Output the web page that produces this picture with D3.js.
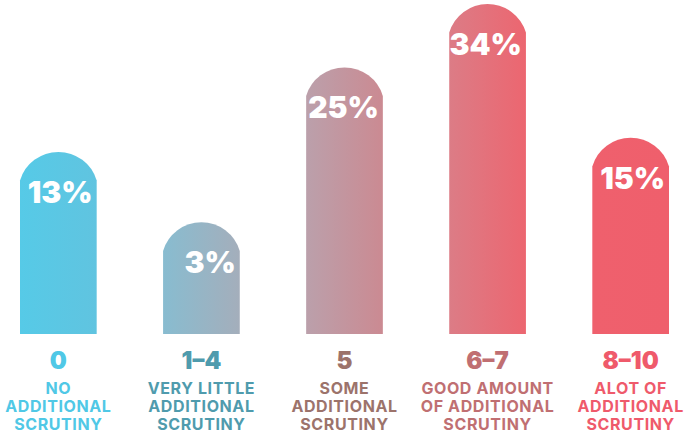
<!DOCTYPE html>
<html>
<head>
<meta charset="utf-8">
<script src="https://cdn.jsdelivr.net/npm/d3@7"></script>
<style>
  html, body { margin: 0; padding: 0; background: #fff; }
  svg { display: block; }
</style>
</head>
<body>
<svg id="chart" width="687" height="436"></svg>
<script>
// Scrutiny rating buckets, their descriptions and the share of answers in each
const categories = ["0", "1–4", "5", "6–7", "8–10"];
const descriptions = [
  ["NO", "ADDITIONAL", "SCRUTINY"],
  ["VERY LITTLE", "ADDITIONAL", "SCRUTINY"],
  ["SOME", "ADDITIONAL", "SCRUTINY"],
  ["GOOD AMOUNT", "OF ADDITIONAL", "SCRUTINY"],
  ["ALOT OF", "ADDITIONAL", "SCRUTINY"]
];
const values = [13, 3, 25, 34, 15];

// Colour ramp: each bar fades left to right, labels use a deeper tone
const barFrom = ["#56CAE7", "#88BCD0", "#BBA0AB", "#DC7C86", "#EF606D"];
const barTo   = ["#60C4E0", "#A4AEBB", "#CB8A92", "#EC6670", "#EF5F6C"];
const textColors = ["#50C8E6", "#4F9BAD", "#9C736B", "#C06F72", "#EF5A6B"];

const svg = d3.select("#chart");
const baseline = 334;

const x = d3.scaleBand()
  .domain(categories)
  .range([20, 669])
  .paddingInner(0.464)
  .paddingOuter(0);

const y = d3.scaleLinear()
  .domain([0, 34])
  .range([243.5, 4]);

const rows = categories.map((c, i) => ({
  cat: c, value: values[i], desc: descriptions[i],
  from: barFrom[i], to: barTo[i], text: textColors[i], i
}));

// one horizontal gradient per bar
const defs = svg.append("defs");
rows.forEach(d => {
  const g = defs.append("linearGradient")
    .attr("id", "grad" + d.i)
    .attr("x1", "0%").attr("x2", "100%")
    .attr("y1", "0%").attr("y2", "0%");
  g.append("stop").attr("offset", "0%").attr("stop-color", d.from);
  g.append("stop").attr("offset", "100%").attr("stop-color", d.to);
});

// arch-topped bar: straight sides with a circular cap
const r = 40;
function archPath(d) {
  const x0 = x(d.cat), x1 = x0 + x.bandwidth();
  const half = x.bandwidth() / 2;
  const sag = r - Math.sqrt(r * r - half * half);
  const top = y(d.value);
  const shoulder = top + sag;
  return `M${x0},${baseline} L${x0},${shoulder} A${r},${r} 0 0 1 ${x1},${shoulder} L${x1},${baseline} Z`;
}

svg.append("g").selectAll("path")
  .data(rows)
  .join("path")
  .attr("d", archPath)
  .attr("fill", d => `url(#grad${d.i})`);

// value labels inside the caps
svg.append("g").selectAll("text")
  .data(rows)
  .join("text")
  .attr("x", d => x(d.cat) + x.bandwidth() - 4)
  .attr("y", d => y(d.value) + 51)
  .attr("text-anchor", "end")
  .attr("fill", "#fff")
  .style("font-family", "Inter, 'Open Sans', sans-serif")
  .style("font-weight", 900)
  .style("font-size", "30px")
  .text(d => d.value + "%");

// category labels under the bars
const lab = svg.append("g").selectAll("g")
  .data(rows)
  .join("g")
  .attr("transform", d => `translate(${x(d.cat) + x.bandwidth() / 2},0)`)
  .attr("fill", d => d.text)
  .attr("text-anchor", "middle")
  .style("font-family", "Inter, 'Open Sans', sans-serif");

lab.append("text")
  .attr("y", 368.5)
  .style("font-weight", 900)
  .style("font-size", "24px")
  .text(d => d.cat);

lab.selectAll("text.desc")
  .data(d => d.desc)
  .join("text")
  .attr("class", "desc")
  .attr("y", (t, j) => 393.5 + j * 18.3)
  .style("font-weight", 700)
  .style("font-size", "16px")
  .style("letter-spacing", "0.6px")
  .text(t => t);
</script>
</body>
</html>
